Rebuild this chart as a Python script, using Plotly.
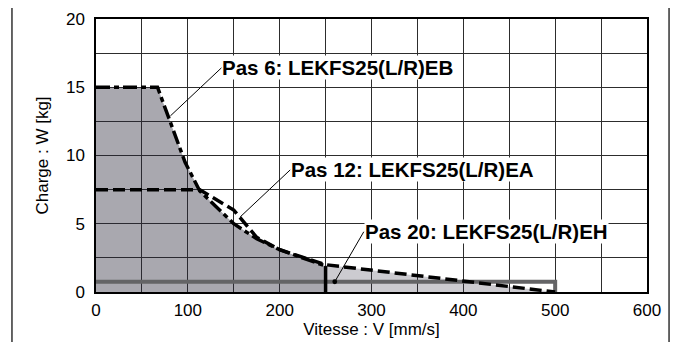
import plotly.graph_objects as go

# Data
pas6_v = [0, 67, 97, 113, 150, 175, 200, 250]
pas6_w = [15, 15, 9.5, 7.4, 5.0, 3.9, 3.1, 1.9]

pas12_v = [0, 113, 150, 175, 200, 250, 500]
pas12_w = [7.5, 7.5, 6.0, 4.0, 3.1, 2.0, 0]

pas20_v = [0, 500]
pas20_w = [0.75, 0.75]

labels = ["Pas 6: LEKFS25(L/R)EB", "Pas 12: LEKFS25(L/R)EA", "Pas 20: LEKFS25(L/R)EH"]
x_ticks = [0, 100, 200, 300, 400, 500, 600]
y_ticks = [0, 5, 10, 15, 20]

FONT = "Liberation Sans, Arial, Helvetica, sans-serif"
GRID = "rgb(45,45,45)"

fig = go.Figure()

# dark fill under Pas 6
fig.add_trace(go.Scatter(x=pas6_v + [pas6_v[-1]], y=pas6_w + [0], mode="lines",
                         line=dict(width=0), fill="tozeroy",
                         fillcolor="rgba(40,38,55,0.40)", hoverinfo="skip"))
# light fill under Pas 12 beyond the Pas 6 limit
lv = [v for v in pas12_v if v >= pas6_v[-1]]
lw = [w for v, w in zip(pas12_v, pas12_w) if v >= pas6_v[-1]]
fig.add_trace(go.Scatter(x=lv, y=lw, mode="lines", line=dict(width=0), fill="tozeroy",
                         fillcolor="rgba(40,38,60,0.24)", hoverinfo="skip"))
# Pas 20 (grey line with right edge)
fig.add_trace(go.Scatter(x=pas20_v + [pas20_v[-1]], y=pas20_w + [0], mode="lines",
                         line=dict(color="rgb(100,100,102)", width=4), hoverinfo="skip"))
# Pas 12 dashed
fig.add_trace(go.Scatter(x=pas12_v, y=pas12_w, mode="lines",
                         line=dict(color="black", width=3.5, dash="12px,5px"), hoverinfo="skip"))
# Pas 6 dash-dot
fig.add_trace(go.Scatter(x=pas6_v, y=pas6_w, mode="lines",
                         line=dict(color="black", width=3.5, dash="14px,4px,5px,4px"), hoverinfo="skip"))
# vertical limit of Pas 6
fig.add_trace(go.Scatter(x=[pas6_v[-1], pas6_v[-1]], y=[pas6_w[-1], 0], mode="lines",
                         line=dict(color="black", width=3.5), hoverinfo="skip"))

ann_common = dict(showarrow=True, arrowhead=0, arrowwidth=1, arrowcolor="black",
                  xanchor="left", yanchor="middle", bgcolor="white",
                  font=dict(family=FONT, size=20.5, color="black"), borderpad=0)
fig.add_annotation(x=81, y=12.9, text="<b>%s</b>" % labels[0], ax=51, ay=-48, **ann_common)
fig.add_annotation(x=157, y=5.5, text="<b>%s</b>" % labels[1], ax=50, ay=-47, **ann_common)
a3 = dict(ann_common)
a3["arrowhead"] = 6
a3["arrowsize"] = 1.2
fig.add_annotation(x=260, y=0.75, text="<b>%s</b>" % labels[2], ax=29, ay=-50, **a3)

# outer frame
fig.add_shape(type="rect", xref="paper", yref="paper", x0=-0.1525, x1=1.04, y0=-0.25, y1=1.055,
              line=dict(color="black", width=1.2), layer="below")

axis_common = dict(showline=True, linecolor="black", linewidth=1.5, mirror=True,
                   showgrid=True, gridcolor=GRID, gridwidth=1, zeroline=False,
                   ticks="", tickfont=dict(family=FONT, size=17, color="black"),
                   automargin=False)
fig.update_xaxes(range=[0, 600], tickvals=x_ticks, ticktext=[str(v) for v in x_ticks],
                 ticklabelstandoff=2,
                 minor=dict(dtick=50, showgrid=True, gridcolor=GRID, gridwidth=1),
                 title=dict(text="Vitesse : V [mm/s]", font=dict(family=FONT, size=17, color="black"),
                            standoff=0),
                 **axis_common)
fig.update_yaxes(range=[0, 20], tickvals=y_ticks, ticktext=[str(v) for v in y_ticks],
                 ticklabelstandoff=6,
                 minor=dict(dtick=2.5, showgrid=True, gridcolor=GRID, gridwidth=1),
                 title=dict(text="Charge : W [kg]", font=dict(family=FONT, size=17, color="black"),
                            standoff=13),
                 **axis_common)

# page body has an 8px offset, so the figure is 8px smaller and margins shifted
fig.update_layout(width=670, height=334, margin=dict(l=88, r=31, t=11, b=50),
                  plot_bgcolor="white", paper_bgcolor="white", showlegend=False)

fig.write_html("out.html")
